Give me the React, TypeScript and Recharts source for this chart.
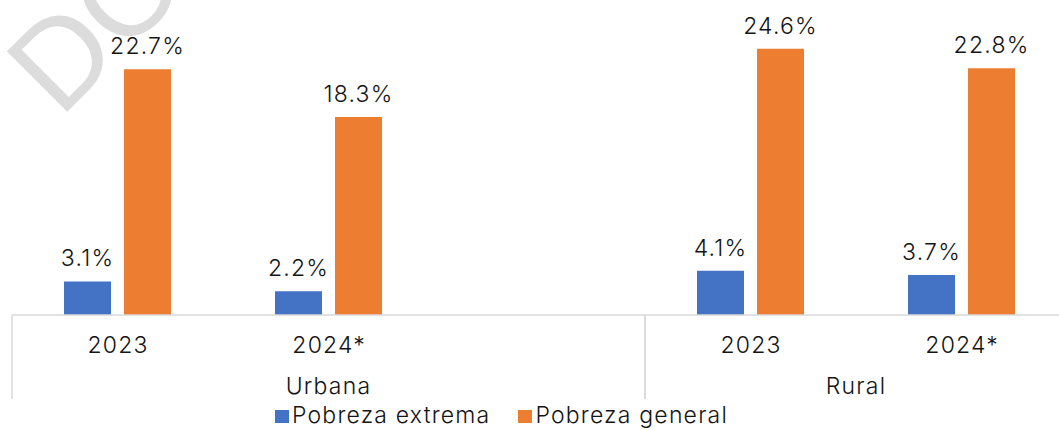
import React from 'react';
import { BarChart, Bar, XAxis, YAxis, Legend, LabelList } from 'recharts';

// ---- data ----
const categoryIds = ['u2023', 'u2024', 'ugap', 'r2023', 'r2024'];
const yearLabels = ['2023', '2024*', '', '2023', '2024*'];
const pobrezaExtrema: (number | null)[] = [3.1, 2.2, null, 4.1, 3.7];
const pobrezaGeneral: (number | null)[] = [22.7, 18.3, null, 24.6, 22.8];
const groups = [
  { name: 'Urbana', start: 0, end: 2 },
  { name: 'Rural', start: 3, end: 4 },
];
const seriesNames = ['Pobreza extrema', 'Pobreza general'];
const seriesColors = ['#4472C4', '#ED7D31'];

const data = categoryIds.map((id, i) => ({
  id,
  year: yearLabels[i],
  extrema: pobrezaExtrema[i],
  general: pobrezaGeneral[i],
}));

// ---- layout ----
const CHART_W = 1080;
const CHART_H = 430;
const MARGIN = { top: 12, right: 13, bottom: 0, left: 12 };
const BAND = (CHART_W - MARGIN.left - MARGIN.right) / categoryIds.length;
const FONT = 'Inter, "Noto Sans", sans-serif';
const FS = 23;
const LS = 1.2;
const TEXT = '#141414';
const AXIS = '#d9d9d9';

const fmt = (v: any) => (v == null ? '' : `${Number(v).toFixed(1)}%`);

const YearTick = (props: any) => {
  const { x, y, payload } = props;
  return (
    <text x={x + LS / 2} y={y + 37.5} textAnchor="middle" fill={TEXT} fontSize={FS} fontFamily={FONT} fontWeight={300} letterSpacing={LS}>
      {yearLabels[payload.index]}
    </text>
  );
};

const GroupTick = (props: any) => {
  const { x, y, payload } = props;
  const g = groups.find((gr) => gr.start === payload.index);
  if (!g) return null;
  const left = x - BAND / 2;
  const span = (g.end - g.start + 1) * BAND;
  return (
    <g>
      <line x1={left} x2={left} y1={y - 50} y2={y + 34} stroke={AXIS} strokeWidth={1.5} />
      <line x1={left + span} x2={left + span} y1={y - 50} y2={y + 34} stroke={AXIS} strokeWidth={1.5} />
      <text x={left + span / 2} y={y + 28.5} textAnchor="middle" fill={TEXT} fontSize={FS} fontFamily={FONT} fontWeight={300} letterSpacing={LS}>
        {g.name}
      </text>
    </g>
  );
};

const LegendContent = () => (
  <div style={{ display: 'flex', alignItems: 'center', height: 30, paddingTop: 0, fontFamily: FONT, fontSize: FS, fontWeight: 300, letterSpacing: LS, color: TEXT, lineHeight: '28px', whiteSpace: 'nowrap' }}>
    {seriesNames.map((n, i) => (
      <div key={n} style={{ display: 'flex', alignItems: 'center', marginRight: 28 }}>
        <span style={{ display: 'inline-block', width: 14, height: 13, background: seriesColors[i], marginRight: 3, marginTop: 3 }} />
        <span>{n}</span>
      </div>
    ))}
  </div>
);

export default function App() {
  return (
    <div style={{ position: 'absolute', left: 0, top: 0, width: 1059, height: 430, overflow: 'hidden', background: '#fff' }}>
      <svg width={1059} height={430} style={{ position: 'absolute', left: 0, top: 0 }}>
        <text
          x={60}
          y={119}
          transform="rotate(-45 60 119)"
          fontSize={124}
          fontFamily='"Liberation Sans", Arial, sans-serif'
          fill="#dcdcdc"
        >
          DO
        </text>
      </svg>
      <div style={{ position: 'absolute', left: 0, top: 0 }}>
        <BarChart width={CHART_W} height={CHART_H} data={data} margin={MARGIN} barCategoryGap={52} barGap={13}>
          <XAxis
            xAxisId={0}
            dataKey="id"
            height={50}
            tickSize={0}
            tickMargin={0}
            axisLine={{ stroke: AXIS, strokeWidth: 1.5 }}
            tickLine={false}
            tick={<YearTick />}
            interval={0}
          />
          <XAxis
            xAxisId={1}
            dataKey="id"
            height={35}
            tickSize={0}
            tickMargin={0}
            axisLine={false}
            tickLine={false}
            tick={<GroupTick />}
            interval={0}
          />
          <YAxis hide domain={[0, 28]} />
          <Legend
            verticalAlign="bottom"
            wrapperStyle={{ left: 275, width: 600, height: 30 }}
            content={<LegendContent />}
          />
          <Bar xAxisId={0} dataKey="extrema" name={seriesNames[0]} fill={seriesColors[0]} isAnimationActive={false}>
            <LabelList dataKey="extrema" position="top" offset={15} formatter={fmt} fill={TEXT} fontSize={FS} fontFamily={FONT} fontWeight={300} letterSpacing={LS} />
          </Bar>
          <Bar xAxisId={0} dataKey="general" name={seriesNames[1]} fill={seriesColors[1]} isAnimationActive={false}>
            <LabelList dataKey="general" position="top" offset={15} formatter={fmt} fill={TEXT} fontSize={FS} fontFamily={FONT} fontWeight={300} letterSpacing={LS} />
          </Bar>
        </BarChart>
      </div>
    </div>
  );
}
